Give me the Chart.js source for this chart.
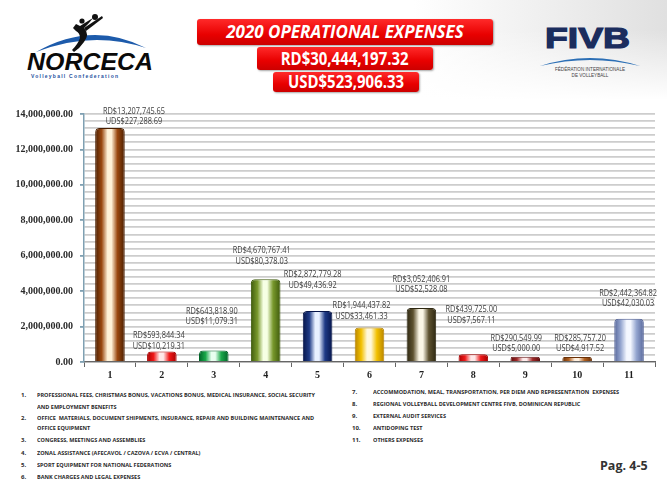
<!DOCTYPE html>
<html>
<head>
<meta charset="utf-8">
<script src="https://cdn.jsdelivr.net/npm/chart.js@4.4.1/dist/chart.umd.min.js"></script>
<style>
  body { margin: 0; width: 667px; height: 484px; position: relative; overflow: hidden; background: #fff; font-family: "Liberation Sans", sans-serif; }
  .shade { position: absolute; left: 0; top: 0; width: 667px; height: 100px;
    background: linear-gradient(to bottom, rgba(255,255,255,0) 0%, rgba(255,255,255,0) 30%, #fff 100%),
                linear-gradient(to right, #fff 62%, #e0e0e0 100%); }
  .redbox { position: absolute; background: linear-gradient(to bottom, #ff2a2a, #e80000 60%, #cc0000);
    color: #fff; font-weight: bold; text-align: center; border-radius: 3px;
    box-shadow: 1px 1px 2px rgba(0,0,0,0.35); font-family: "Open Sans", sans-serif; white-space: nowrap; }
  .redbox span { display: inline-block; transform: scaleX(0.88); }
  #box1 { left: 197px; top: 19px; width: 296px; height: 26px; line-height: 26px; font-size: 17px; font-style: italic; }
  #box1 span { transform: none; }
  #box2 { left: 257px; top: 47px; width: 176px; height: 23px; line-height: 23px; font-size: 17px; }
  #box3 { left: 273px; top: 72px; width: 146px; height: 20px; line-height: 20px; font-size: 17px; }
  #wrap { position: absolute; left: 0; top: 95px; width: 667px; height: 290px; }
  .leg, .num { position: absolute; font-family: "Open Sans", sans-serif; font-weight: bold; font-size: 6px; color: #2a2a2a; white-space: nowrap; transform-origin: 0 50%; }
  #page { position: absolute; left: 600px; top: 457px; font-family: "Open Sans", sans-serif; font-weight: bold; font-size: 12.5px; color: #333; }
  svg { position: absolute; }
</style>
</head>
<body>
<div class="shade"></div>

<svg style="left:0;top:0" width="170" height="90">
  <path d="M36 52 Q92 20 146 48 Q92 30 36 52 Z" fill="#1d5bab"/>
  <circle cx="95" cy="17" r="3" fill="#111"/>
  <circle cx="82" cy="21" r="2.6" fill="#111"/>
  <path d="M76 24 L80 26 L88 21 L93 18 L89 23 L84 28 Q90 34 84 42 Q80 48 74 52 L72 50 Q78 44 80 38 Q80 33 76 31 L73 28 Z" fill="#111"/>
  <path d="M84 28 L102 16 L103 18 L86 31 Z" fill="#111"/>
  <text x="27" y="70" font-family="Liberation Sans" font-weight="bold" font-style="italic" font-size="24" fill="#0a0a0a" textLength="126" lengthAdjust="spacingAndGlyphs">NORCECA</text>
  <text x="31" y="78" font-family="Liberation Sans" font-weight="bold" font-size="5" letter-spacing="1.25" fill="#1d4f9e">Volleyball  Confederation</text>
</svg>

<svg style="left:530px;top:10px" width="130" height="75">
  <text x="15" y="38" font-family="Liberation Sans" font-weight="bold" font-size="29" fill="#1b2d5e" stroke="#1b2d5e" stroke-width="1.2" textLength="85" lengthAdjust="spacingAndGlyphs">FIVB</text>
  <path d="M10 56 Q60 40 110 56 Q60 44 10 56 Z" fill="#2c6fb5"/>
  <text x="60" y="61" text-anchor="middle" font-family="Liberation Sans" font-size="4.6" fill="#444">FÉDÉRATION INTERNATIONALE</text>
  <text x="60" y="67" text-anchor="middle" font-family="Liberation Sans" font-size="4.6" fill="#444">DE VOLLEYBALL</text>
</svg>

<div class="redbox" id="box1"><span>2020 OPERATIONAL EXPENSES</span></div>
<div class="redbox" id="box2"><span>RD$30,444,197.32</span></div>
<div class="redbox" id="box3"><span>USD$523,906.33</span></div>

<div id="wrap"><canvas id="expChart" width="667" height="290"></canvas></div>

<div class="num" style="left:21px;top:391px">1.</div>
<div class="leg" id="legFirst" style="left:37px;top:391px">PROFESSIONAL FEES, CHRISTMAS BONUS, VACATIONS BONUS, MEDICAL INSURANCE, SOCIAL SECURITY</div>
<div class="leg" style="left:37px;top:403px">AND EMPLOYMENT BENEFITS</div>
<div class="num" style="left:21px;top:414px">2.</div>
<div class="leg" style="left:37px;top:414px">OFFICE &nbsp;MATERIALS, DOCUMENT SHIPMENTS, INSURANCE, REPAIR AND BUILDING MAINTENANCE AND</div>
<div class="leg" style="left:37px;top:424px">OFFICE EQUIPMENT</div>
<div class="num" style="left:21px;top:436px">3.</div>
<div class="leg" style="left:37px;top:436px">CONGRESS, MEETINGS AND ASSEMBLIES</div>
<div class="num" style="left:21px;top:449px">4.</div>
<div class="leg" style="left:37px;top:449px">ZONAL ASSISTANCE (AFECAVOL / CAZOVA / ECVA / CENTRAL)</div>
<div class="num" style="left:21px;top:461px">5.</div>
<div class="leg" style="left:37px;top:461px">SPORT EQUIPMENT FOR NATIONAL FEDERATIONS</div>
<div class="num" style="left:21px;top:473px">6.</div>
<div class="leg" style="left:37px;top:473px">BANK CHARGES AND LEGAL EXPENSES</div>

<div class="num" style="left:352px;top:388px">7.</div>
<div class="leg" style="left:373px;top:388px">ACCOMMODATION, MEAL, TRANSPORTATION, PER DIEM AND REPRESENTATION &nbsp;EXPENSES</div>
<div class="num" style="left:352px;top:400px">8.</div>
<div class="leg" style="left:373px;top:400px">REGIONAL VOLLEYBALL DEVELOPMENT CENTRE FIVB, DOMINICAN REPUBLIC</div>
<div class="num" style="left:352px;top:412px">9.</div>
<div class="leg" style="left:373px;top:412px">EXTERNAL AUDIT SERVICES</div>
<div class="num" style="left:352px;top:424px">10.</div>
<div class="leg" style="left:373px;top:424px">ANTIDOPING TEST</div>
<div class="num" style="left:352px;top:436px">11.</div>
<div class="leg" style="left:373px;top:436px">OTHERS EXPENSES</div>

<div id="page">Pag. 4-5</div>

<script>
// chart values
const categories = ['1', '2', '3', '4', '5', '6', '7', '8', '9', '10', '11'];
const rdValues = [13207745.65, 593844.34, 643818.90, 4670767.41, 2872779.28, 1944437.82,
                  3052406.91, 439725.00, 290549.99, 285757.20, 2442364.82];
const usdValues = [227288.69, 10219.31, 11079.31, 80378.03, 49436.92, 33461.33,
                   52528.08, 7567.11, 5000.00, 4917.52, 42030.03];
// prefixes as printed on the original (typos kept)
const usdPrefix = ['UDS$', 'USD$', 'USD$', 'USD$', 'UD$', 'USD$', 'USD$', 'USD$', 'USD$', 'USD$', 'USD$'];
const yMax = 14000000;
const yStep = 400000;
const yLabelStep = 2000000;

// look: [dark, mid, light] per bar, and label nudge [dx, dy] in px from bar top
const barColors = [
    ['#4a1e00', '#9a4810', '#fff2d8'],
    ['#a80000', '#f01818', '#ffe8e8'],
    ['#006428', '#1aa84a', '#e8fff0'],
    ['#3e5a0c', '#78982c', '#f6ffe4'],
    ['#06154a', '#1e3a86', '#e8f0ff'],
    ['#b88400', '#f2c000', '#fff8dc'],
    ['#2e2812', '#5e5230', '#fbf6e6'],
    ['#a80000', '#ee1a1a', '#ffe8e8'],
    ['#5e0c0c', '#a02a2a', '#ffecec'],
    ['#6a3006', '#b06020', '#fff0e0'],
    ['#56669a', '#95a6d0', '#f4f7ff']
];
const labelNudge = [[24, -6], [-3, -5], [-2, -29], [-4, -18], [-5, -26], [-8, -11],
                    [0, -18], [-2, -34], [-9, -8], [3, -8], [-1, -15]];
const barPct = 0.57;

// squeeze the legend lines to the width they have on the original
(function () {
    const first = document.getElementById('legFirst');
    const k = 278 / first.getBoundingClientRect().width;
    document.querySelectorAll('.leg').forEach(el => { el.style.transform = 'scaleX(' + k + ')'; });
})();

function fmt(v) {
    return v.toLocaleString('en-US', { minimumFractionDigits: 2, maximumFractionDigits: 2 });
}

function barFill(context) {
    const chart = context.chart;
    const area = chart.chartArea;
    const i = context.dataIndex;
    if (!area) return barColors[i][1];
    const x = chart.scales.x.getPixelForValue(i);
    const half = (area.width / categories.length) * barPct / 2;
    const g = chart.ctx.createLinearGradient(x - half, 0, x + half, 0);
    const c = barColors[i];
    g.addColorStop(0, c[0]);
    g.addColorStop(0.22, c[1]);
    g.addColorStop(0.42, c[2]);
    g.addColorStop(0.55, c[2]);
    g.addColorStop(0.75, c[1]);
    g.addColorStop(1, c[0]);
    return g;
}

// two-line amount labels above each bar
const amountLabels = {
    id: 'amountLabels',
    afterDatasetsDraw(chart) {
        const ctx = chart.ctx;
        const meta = chart.getDatasetMeta(0);
        ctx.save();
        ctx.font = '8.5px "Open Sans"';
        // first label is ~62px wide on the original
        const sx = 62 / ctx.measureText('RD$' + fmt(rdValues[0])).width;
        ctx.fillStyle = '#3c3c3c';
        ctx.textAlign = 'center';
        ctx.textBaseline = 'middle';
        meta.data.forEach((bar, i) => {
            const x = bar.x + labelNudge[i][0];
            const y = bar.y + labelNudge[i][1];
            ctx.save();
            ctx.translate(x, 0);
            ctx.scale(sx, 1);
            ctx.fillText('RD$' + fmt(rdValues[i]), 0, y - 10.5);
            ctx.fillText(usdPrefix[i] + fmt(usdValues[i]), 0, y);
            ctx.restore();
        });
        ctx.restore();
    }
};

new Chart(document.getElementById('expChart'), {
    type: 'bar',
    data: {
        labels: categories,
        datasets: [{
            data: rdValues,
            backgroundColor: barFill,
            borderColor: ctx => barColors[ctx.dataIndex][0],
            borderWidth: 1,
            borderSkipped: 'bottom',
            borderRadius: { topLeft: 4, topRight: 4 },
            barPercentage: barPct,
            categoryPercentage: 1
        }]
    },
    options: {
        responsive: false,
        animation: false,
        layout: { padding: { top: 19, right: 12, left: 0, bottom: 0 } },
        plugins: { legend: { display: false }, tooltip: { enabled: false } },
        scales: {
            x: {
                afterFit(scale) { scale.height = 23; },
                border: { color: '#666', width: 1.2 },
                grid: { drawOnChartArea: false, tickLength: 5, color: '#666', offset: true },
                ticks: { color: '#1e1e1e', padding: 2, font: { family: 'Liberation Serif', weight: 'bold', size: 10 } }
            },
            y: {
                min: 0,
                max: yMax,
                afterFit(scale) { scale.width = 84; },
                border: { color: '#7fa0b2', width: 1.5 },
                grid: {
                    color: '#cdcdcd',
                    lineWidth: 1.8,
                    tickLength: 4,
                    tickColor: ctx => (ctx.tick && ctx.tick.value % yLabelStep === 0) ? '#7fa0b2' : 'rgba(0,0,0,0)'
                },
                ticks: {
                    stepSize: yStep,
                    autoSkip: false,
                    padding: 7,
                    color: '#2a2a2a',
                    font: { family: 'Liberation Serif', weight: 'bold', size: 10 },
                    callback: v => (v % yLabelStep === 0) ? fmt(v) : ''
                }
            }
        }
    },
    plugins: [amountLabels]
});
</script>
</body>
</html>
